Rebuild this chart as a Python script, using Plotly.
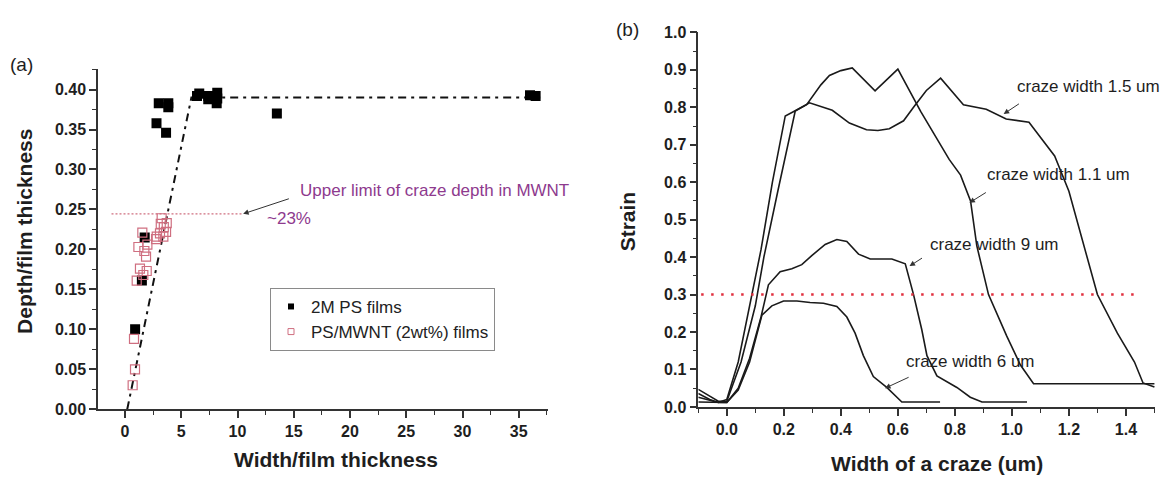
import plotly.graph_objects as go

# ---------------- Panel (a) data ----------------
ps_x = [0.9, 1.5, 1.75, 2.8, 3.0, 3.65, 3.85, 3.85, 6.4, 6.6, 7.4, 7.4, 8.2, 8.15, 8.2, 13.5, 36.0, 36.5]
ps_y = [0.100, 0.161, 0.215, 0.358, 0.383, 0.346, 0.383, 0.378, 0.392, 0.395, 0.392, 0.388,
        0.396, 0.383, 0.389, 0.370, 0.393, 0.392]

mwnt_x = [0.68, 0.89, 0.80, 1.04, 1.63, 1.33, 1.93, 1.87, 1.72, 1.19, 1.99, 1.54,
          2.76, 2.82, 3.11, 3.41, 3.65, 3.18, 3.71, 3.26, 3.45]
mwnt_y = [0.030, 0.050, 0.088, 0.161, 0.168, 0.176, 0.173, 0.191, 0.198, 0.203, 0.206, 0.221,
          0.213, 0.216, 0.220, 0.216, 0.222, 0.232, 0.233, 0.239, 0.228]

fit_x = [0.2, 5.9, 37.0]
fit_y = [0.0, 0.39, 0.39]

limit_x = [-1.2, 10.5]
limit_y = [0.2445, 0.2445]

# ---------------- Panel (b) data ----------------
c15_x = [-0.10, -0.06, -0.03, 0.00, 0.04, 0.08, 0.12, 0.16, 0.205, 0.235, 0.29, 0.37, 0.43, 0.49,
         0.53, 0.57, 0.62, 0.655, 0.70, 0.75, 0.83, 0.91, 0.98, 1.06, 1.15, 1.20, 1.25, 1.30,
         1.37, 1.43, 1.46, 1.50]
c15_y = [0.036, 0.02, 0.012, 0.02, 0.12, 0.27, 0.42, 0.60, 0.777, 0.789, 0.812, 0.792, 0.758, 0.74,
         0.738, 0.743, 0.764, 0.80, 0.845, 0.878, 0.807, 0.795, 0.769, 0.76, 0.67, 0.576, 0.44, 0.30,
         0.197, 0.12, 0.064, 0.053]

c11_x = [-0.10, -0.06, -0.03, 0.00, 0.05, 0.10, 0.13, 0.18, 0.24, 0.28, 0.33, 0.36, 0.40, 0.44,
         0.52, 0.60, 0.68, 0.78, 0.82, 0.855, 0.877, 0.918, 0.982, 1.03, 1.076, 1.50]
c11_y = [0.047, 0.03, 0.015, 0.015, 0.12, 0.27, 0.40, 0.58, 0.79, 0.807, 0.86, 0.885, 0.898, 0.905,
         0.844, 0.902, 0.789, 0.661, 0.619, 0.55, 0.43, 0.30, 0.189, 0.112, 0.062, 0.062]

c9_x = [-0.10, -0.06, -0.03, 0.00, 0.04, 0.08, 0.12, 0.146, 0.187, 0.228, 0.263, 0.298, 0.345,
        0.386, 0.421, 0.462, 0.503, 0.579, 0.626, 0.655, 0.684, 0.702, 0.737, 0.807, 0.854, 0.895, 1.053]
c9_y = [0.026, 0.018, 0.012, 0.012, 0.05, 0.13, 0.24, 0.326, 0.361, 0.369, 0.38, 0.404, 0.434,
        0.447, 0.442, 0.408, 0.395, 0.395, 0.382, 0.30, 0.206, 0.137, 0.083, 0.052, 0.026, 0.013, 0.013]

c6_x = [-0.10, -0.05, 0.00, 0.04, 0.08, 0.123, 0.158, 0.199, 0.246, 0.292, 0.339, 0.386, 0.421,
        0.45, 0.479, 0.514, 0.561, 0.614, 0.748]
c6_y = [0.013, 0.012, 0.012, 0.045, 0.12, 0.245, 0.27, 0.283, 0.283, 0.279, 0.277, 0.268, 0.24,
        0.197, 0.137, 0.081, 0.052, 0.013, 0.013]

thr_x = [-0.09, 1.43]
thr_y = [0.3, 0.3]

W, H = 1166, 489
FONT = "Liberation Sans, Arial, sans-serif"
AXC = "#333333"
TXT = "#1e1e1e"
PURPLE = "#8e3a8e"
PINK = "#cf6f80"

fig = go.Figure()

# Panel (a)
fig.add_trace(go.Scatter(x=fit_x, y=fit_y, mode="lines", xaxis="x", yaxis="y",
                         line=dict(color="#111111", width=2, dash="8px,5px,3px,5px"),
                         showlegend=False, hoverinfo="skip"))
fig.add_trace(go.Scatter(x=limit_x, y=limit_y, mode="lines", xaxis="x", yaxis="y",
                         line=dict(color=PINK, width=1.3, dash="2px,2px"),
                         showlegend=False, hoverinfo="skip"))
fig.add_trace(go.Scatter(x=ps_x, y=ps_y, mode="markers", xaxis="x", yaxis="y",
                         marker=dict(symbol="square", size=10, color="#000000"),
                         showlegend=False))
fig.add_trace(go.Scatter(x=mwnt_x, y=mwnt_y, mode="markers", xaxis="x", yaxis="y",
                         marker=dict(symbol="square-open", size=9, color=PINK, line=dict(width=1.2)),
                         showlegend=False))
fig.add_trace(go.Scatter(x=[None], y=[None], mode="markers", xaxis="x", yaxis="y",
                         name="2M PS films",
                         marker=dict(symbol="square", size=6, color="#000000")))
fig.add_trace(go.Scatter(x=[None], y=[None], mode="markers", xaxis="x", yaxis="y",
                         name="PS/MWNT (2wt%) films",
                         marker=dict(symbol="square-open", size=6, color=PINK, line=dict(width=1))))

# Panel (b)
for cx, cy in [(c15_x, c15_y), (c11_x, c11_y), (c9_x, c9_y), (c6_x, c6_y)]:
    fig.add_trace(go.Scatter(x=cx, y=cy, mode="lines", xaxis="x2", yaxis="y2",
                             line=dict(color="#1a1a1a", width=1.6), showlegend=False,
                             hoverinfo="skip"))
fig.add_trace(go.Scatter(x=thr_x, y=thr_y, mode="lines", xaxis="x2", yaxis="y2",
                         line=dict(color="#e0303f", width=2.5, dash="2.5px,7.5px"),
                         showlegend=False, hoverinfo="skip"))

tickfont = dict(family=FONT, size=16, color=TXT, weight="bold")
axis_common = dict(showline=True, linecolor=AXC, linewidth=1.5, showgrid=False, zeroline=False,
                   ticks="outside", ticklen=7, tickwidth=1.5, tickcolor=AXC, tickfont=tickfont,
                   mirror=False)

fig.update_layout(
    width=W, height=H,
    margin=dict(l=0, r=0, t=0, b=0),
    paper_bgcolor="white", plot_bgcolor="white",
    font=dict(family=FONT, color=TXT),
    xaxis=dict(domain=[98 / W, 548 / W], range=[-2.4, 37.6], anchor="y",
               tick0=0, dtick=5,
               minor=dict(tick0=0, dtick=2.5, ticklen=4, tickwidth=1.2, tickcolor=AXC, ticks="outside"),
               **axis_common),
    yaxis=dict(domain=[1 - 415.7 / H, 1 - 63 / H], range=[0, 0.426], anchor="x",
               tick0=0, dtick=0.05, tickformat=".2f",
               minor=dict(tick0=0, dtick=0.025, ticklen=4, tickwidth=1.2, tickcolor=AXC, ticks="outside"),
               **axis_common),
    xaxis2=dict(domain=[698.3 / W, 1155 / W], range=[-0.1, 1.502], anchor="y2",
                tick0=0, dtick=0.2, tickformat=".1f",
                minor=dict(tick0=0, dtick=0.1, ticklen=4, tickwidth=1.2, tickcolor=AXC, ticks="outside"),
                **axis_common),
    yaxis2=dict(domain=[1 - 413.3 / H, 1 - 25.3 / H], range=[0, 1.0], anchor="x2",
                tick0=0, dtick=0.1, tickformat=".1f",
                minor=dict(tick0=0, dtick=0.05, ticklen=4, tickwidth=1.2, tickcolor=AXC, ticks="outside"),
                **axis_common),
    legend=dict(x=270 / W, y=1 - 290 / H, xanchor="left", yanchor="top",
                bgcolor="white", bordercolor="#8a8a8a", borderwidth=1,
                font=dict(family=FONT, size=17, color="#222222"),
                tracegroupgap=0, itemwidth=30, entrywidth=236, entrywidthmode="pixels"),
)

ann = []
C = dict(xanchor="center", yanchor="middle", xref="paper", yref="paper", showarrow=False)
ann.append(dict(text="(a)", x=21 / W, y=1 - 59 / H, font=dict(size=19, family=FONT, color=TXT), **C))
ann.append(dict(text="(b)", x=628 / W, y=1 - 22 / H, font=dict(size=19, family=FONT, color=TXT), **C))
title_font = dict(size=21, family=FONT, color=TXT, weight="bold")
ann.append(dict(text="Depth/film thickness", x=25 / W, y=1 - 232 / H, textangle=-90,
                font=title_font, **C))
ann.append(dict(text="Width/film thickness", x=335.5 / W, y=1 - 467.5 / H, font=title_font, **C))
ann.append(dict(text="Strain", x=627 / W, y=1 - 221 / H, textangle=-90, font=title_font, **C))
ann.append(dict(text="Width of a craze (um)", x=937 / W, y=1 - 472 / H, font=title_font, **C))

ann.append(dict(text="Upper limit of craze depth in MWNT", x=15.42, y=0.274, xref="x", yref="y",
                xanchor="left", yanchor="middle", showarrow=False,
                font=dict(size=17, family=FONT, color=PURPLE)))
ann.append(dict(text="~23%", x=12.46, y=0.239, xref="x", yref="y",
                xanchor="left", yanchor="middle", showarrow=False,
                font=dict(size=17, family=FONT, color=PURPLE)))
ann.append(dict(text="", x=10.5, y=0.2445, ax=14.7, ay=0.264, xref="x", yref="y",
                axref="x", ayref="y", showarrow=True, arrowhead=2, arrowsize=1.1,
                arrowwidth=1, arrowcolor="#333333", standoff=0))

lab_font = dict(size=17, family=FONT, color="#1e1e1e")
labels_b = [("craze width 1.5 um", 1.0116, 0.855, 0.971, 0.782, 1.03, 0.812),
            ("craze width 1.1 um", 0.906, 0.620, 0.851, 0.545, 0.914, 0.575),
            ("craze width 9 um", 0.7074, 0.434, 0.641, 0.376, 0.69, 0.40),
            ("craze width 6 um", 0.62, 0.122, 0.555, 0.05, 0.643, 0.081)]
for t, tx, ty, hx, hy, tlx, tly in labels_b:
    ann.append(dict(text=t, x=tx, y=ty, xref="x2", yref="y2", xanchor="left", yanchor="middle",
                    showarrow=False, font=lab_font))
    ann.append(dict(text="", x=hx, y=hy, ax=tlx, ay=tly, xref="x2", yref="y2",
                    axref="x2", ayref="y2", showarrow=True, arrowhead=2, arrowsize=1.1,
                    arrowwidth=1, arrowcolor="#333333", standoff=0))

fig.update_layout(annotations=ann)

fig.write_html("out.html", config={"displayModeBar": False},
               post_script="document.body.style.margin='0';document.body.style.overflow='hidden';")
